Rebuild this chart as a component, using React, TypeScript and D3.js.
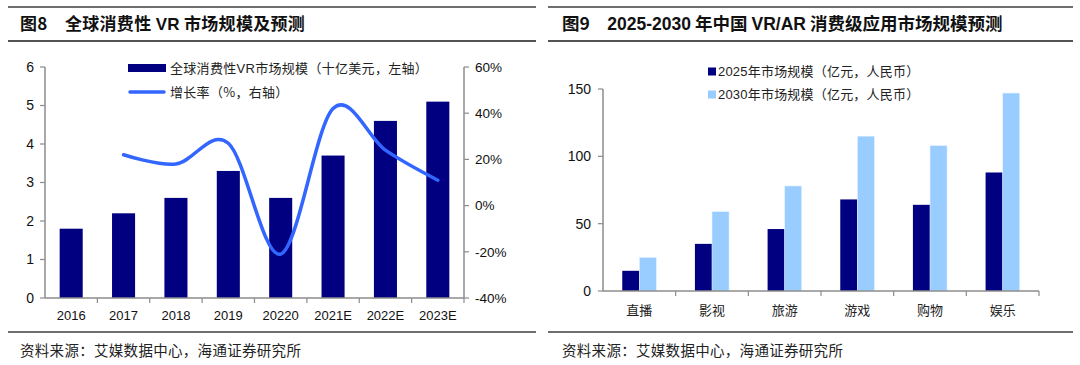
import React from 'react';
import * as d3 from 'd3';

const W = 1080;
const H = 365;
const LATIN = '"Liberation Sans", Arial, "Noto Sans CJK SC", sans-serif';
const CJK = '"Noto Sans CJK SC", "Liberation Sans", sans-serif';

// left chart data
const yearLabels = ['2016', '2017', '2018', '2019', '20220', '2021E', '2022E', '2023E'];
const marketSize = [1.8, 2.2, 2.6, 3.3, 2.6, 3.7, 4.6, 5.1];
const growthRate: (number | null)[] = [null, 22, 18, 27, -21, 42, 24, 11];
const leftTicks = [0, 1, 2, 3, 4, 5, 6];
const rightTicks = [-40, -20, 0, 20, 40, 60];

// right chart data
const sceneLabels = ['直播', '影视', '旅游', '游戏', '购物', '娱乐'];
const size2025 = [15, 35, 46, 68, 64, 88];
const size2030 = [25, 59, 78, 115, 108, 147];
const sceneTicks = [0, 50, 100, 150];

const NAVY = '#000080';
const LIGHT = '#99ccff';
const AXIS = '#8c8c8c';

const LeftChart: React.FC = () => {
  const x = d3.scaleBand<string>().domain(yearLabels).range([45, 464]).paddingInner(0.56).paddingOuter(0.28);
  const yL = d3.scaleLinear().domain([0, 6]).range([298, 67]);
  const yR = d3.scaleLinear().domain([-40, 60]).range([298, 67]);
  const step = x.step();
  const pts = growthRate
    .map((v, i) => (v == null ? null : [x(yearLabels[i])! + x.bandwidth() / 2, yR(v)] as [number, number]))
    .filter((p): p is [number, number] => p != null);
  const line = d3.line().curve(d3.curveCardinal.tension(0))(pts) || '';

  return (
    <g>
      {/* rules and title */}
      <line x1={8} x2={536} y1={7} y2={7} stroke="#6e6e6e" strokeWidth={2} />
      <text x={20} y={30} fontFamily={CJK} fontWeight="bold" fontSize={17} fill="#111" letterSpacing={0.3}>
        图8{'\u2003'}全球消费性 <tspan fontFamily={LATIN}>VR</tspan> 市场规模及预测
      </text>
      <line x1={8} x2={536} y1={41} y2={41} stroke="#1a1a1a" strokeWidth={1.5} />

      {/* bars */}
      {marketSize.map((v, i) => (
        <rect key={i} x={x(yearLabels[i])} y={yL(v)} width={x.bandwidth()} height={yL(0) - yL(v)} fill={NAVY} />
      ))}

      {/* growth line */}
      <path d={line} fill="none" stroke="#3366ff" strokeWidth={3.5} strokeLinecap="round" />

      {/* left axis */}
      <line x1={45} x2={45} y1={67} y2={298} stroke={AXIS} strokeWidth={1.5} />
      {leftTicks.map((t) => (
        <g key={t}>
          <line x1={40} x2={45} y1={yL(t)} y2={yL(t)} stroke={AXIS} strokeWidth={1.2} />
          <text x={34} y={yL(t)} dy="0.35em" textAnchor="end" fontFamily={LATIN} fontSize={14} fill="#111">
            {t}
          </text>
        </g>
      ))}

      {/* right axis */}
      <line x1={464} x2={464} y1={67} y2={298} stroke={AXIS} strokeWidth={1.5} />
      {rightTicks.map((t) => (
        <g key={t}>
          <line x1={464} x2={469} y1={yR(t)} y2={yR(t)} stroke={AXIS} strokeWidth={1.2} />
          <text x={475} y={yR(t)} dy="0.35em" fontFamily={LATIN} fontSize={13.5} fill="#111">
            {t}%
          </text>
        </g>
      ))}

      {/* x axis */}
      <line x1={45} x2={464} y1={298} y2={298} stroke={AXIS} strokeWidth={1.5} />
      {yearLabels.map((d, i) => (
        <g key={d}>
          <line x1={45 + step * (i + 1)} x2={45 + step * (i + 1)} y1={298} y2={303} stroke={AXIS} strokeWidth={1.2} />
          <text x={x(d)! + x.bandwidth() / 2} y={315} dy="0.35em" textAnchor="middle" fontFamily={LATIN} fontSize={13} fill="#111">
            {d}
          </text>
        </g>
      ))}

      {/* legend */}
      <rect x={128} y={64} width={38} height={8} fill={NAVY} />
      <text x={170} y={68} dy="0.35em" fontFamily={CJK} fontSize={13} fill="#222" letterSpacing={0.3}>
        全球消费性<tspan fontFamily={LATIN}>VR</tspan>市场规模（十亿美元，左轴）
      </text>
      <line x1={130} x2={164} y1={92} y2={92} stroke="#3366ff" strokeWidth={3.5} strokeLinecap="round" />
      <text x={170} y={92} dy="0.35em" fontFamily={CJK} fontSize={13} fill="#222" letterSpacing={0.3}>
        增长率（%，右轴）
      </text>

      {/* bottom */}
      <line x1={8} x2={536} y1={332} y2={332} stroke="#6e6e6e" strokeWidth={2} />
      <text x={20} y={351} dy="0.35em" fontFamily={CJK} fontSize={14.5} fill="#222" letterSpacing={0.3}>
        资料来源：艾媒数据中心，海通证券研究所
      </text>
    </g>
  );
};

const RightChart: React.FC = () => {
  const x0 = d3.scaleBand<string>().domain(sceneLabels).range([603, 1039]).paddingInner(0.53).paddingOuter(0.265);
  const x1 = d3.scaleBand<string>().domain(['2025', '2030']).range([0, x0.bandwidth()]);
  const y = d3.scaleLinear().domain([0, 150]).range([291, 89]);
  const step = x0.step();
  const series = [
    { key: '2025', values: size2025, color: NAVY, label: '2025年市场规模（亿元，人民币）' },
    { key: '2030', values: size2030, color: LIGHT, label: '2030年市场规模（亿元，人民币）' },
  ];

  return (
    <g>
      <line x1={548} x2={1073} y1={7} y2={7} stroke="#6e6e6e" strokeWidth={2} />
      <text x={562} y={30} fontFamily={CJK} fontWeight="bold" fontSize={17.5} fill="#111">
        图9{'\u2003'}<tspan fontFamily={LATIN}>2025-2030</tspan> 年中国 <tspan fontFamily={LATIN}>VR/AR</tspan> 消费级应用市场规模预测
      </text>
      <line x1={548} x2={1073} y1={41} y2={41} stroke="#1a1a1a" strokeWidth={1.5} />

      {sceneLabels.map((c, i) => (
        <g key={c} transform={`translate(${x0(c)},0)`}>
          {series.map((s) => (
            <rect
              key={s.key}
              x={x1(s.key)}
              y={y(s.values[i])}
              width={x1.bandwidth()}
              height={y(0) - y(s.values[i])}
              fill={s.color}
              stroke={s.key === '2030' ? '#e8f3ff' : 'none'}
              strokeWidth={0.6}
            />
          ))}
        </g>
      ))}

      <line x1={603} x2={603} y1={89} y2={291} stroke={AXIS} strokeWidth={1.5} />
      {sceneTicks.map((t) => (
        <g key={t}>
          <line x1={598} x2={603} y1={y(t)} y2={y(t)} stroke={AXIS} strokeWidth={1.2} />
          <text x={591} y={y(t)} dy="0.35em" textAnchor="end" fontFamily={LATIN} fontSize={14} fill="#111">
            {t}
          </text>
        </g>
      ))}
      <line x1={603} x2={1039} y1={291} y2={291} stroke={AXIS} strokeWidth={1.5} />
      {sceneLabels.map((c, i) => (
        <g key={c}>
          <line x1={603 + step * (i + 1)} x2={603 + step * (i + 1)} y1={291} y2={296} stroke={AXIS} strokeWidth={1.2} />
          <text x={x0(c)! + x0.bandwidth() / 2} y={310} dy="0.35em" textAnchor="middle" fontFamily={CJK} fontSize={13} fill="#222">
            {c}
          </text>
        </g>
      ))}

      {series.map((s, i) => (
        <g key={s.key} transform={`translate(708,${71.5 + i * 23})`}>
          <rect x={0} y={-4} width={8} height={8} fill={s.color} />
          <text x={10} y={0} dy="0.35em" fontFamily={CJK} fontSize={13} fill="#222" letterSpacing={0.2}>
            <tspan fontFamily={LATIN}>{s.label.slice(0, 4)}</tspan>
            {s.label.slice(4)}
          </text>
        </g>
      ))}

      <line x1={548} x2={1073} y1={332} y2={332} stroke="#6e6e6e" strokeWidth={2} />
      <text x={562} y={351} dy="0.35em" fontFamily={CJK} fontSize={14.5} fill="#222" letterSpacing={0.3}>
        资料来源：艾媒数据中心，海通证券研究所
      </text>
    </g>
  );
};

const App: React.FC = () => (
  <svg width={W} height={H} style={{ position: 'absolute', left: 0, top: 0, background: '#fff' }}>
    <rect width={W} height={H} fill="#fff" />
    <LeftChart />
    <RightChart />
  </svg>
);

export default App;
